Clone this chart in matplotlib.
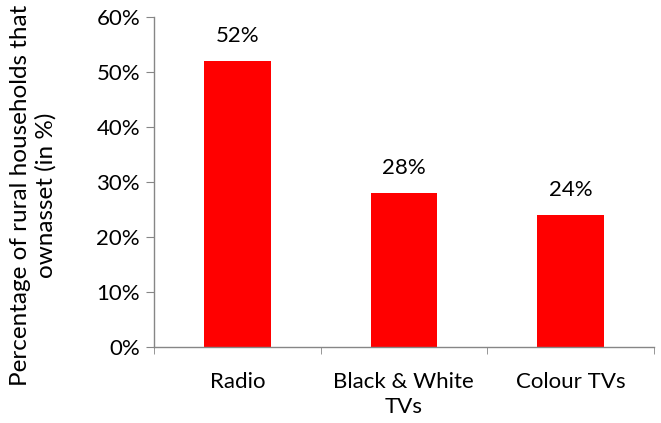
import matplotlib
matplotlib.use("Agg")
import matplotlib.pyplot as plt
from matplotlib.ticker import FuncFormatter, FixedLocator


categories = ["Radio", "Black & White\nTVs", "Colour TVs"]
shares = [52, 28, 24]
y_ticks = [0, 10, 20, 30, 40, 50, 60]

BAR_COLOR = "#FF0000"
AXIS_COLOR = "#868686"

plt.rcParams["font.family"] = ["Lato", "DejaVu Sans"]

fig = plt.figure(figsize=(6.61, 4.23), dpi=100)
ax = fig.add_axes([0.233, 0.180, 0.756, 0.780])

x = list(range(len(categories)))
bars = ax.bar(x, shares, width=0.4, color=BAR_COLOR)

for xi, v in zip(x, shares):
    ax.annotate(f"{v}%", (xi, v), xytext=(0, 11), textcoords="offset points",
                ha="center", va="bottom", fontsize=16)

ax.set_xlim(-0.5, len(categories) - 0.5)
ax.set_ylim(0, 60)
ax.set_yticks(y_ticks)
ax.yaxis.set_major_formatter(FuncFormatter(lambda v, _: f"{v:.0f}%"))

ax.set_xticks(x)
ax.set_xticklabels(categories, fontsize=16, linespacing=1.35)
ax.xaxis.set_minor_locator(FixedLocator([i - 0.5 for i in range(len(categories) + 1)]))
ax.tick_params(axis="x", which="major", length=0, pad=18)
ax.tick_params(axis="x", which="minor", length=5, color=AXIS_COLOR, direction="out")
ax.tick_params(axis="y", length=6, color=AXIS_COLOR, direction="out", labelsize=16, pad=4)

for side in ["top", "right"]:
    ax.spines[side].set_visible(False)
for side in ["left", "bottom"]:
    ax.spines[side].set_color(AXIS_COLOR)
    ax.spines[side].set_linewidth(1.0)

ax.set_ylabel("Percentage of rural households that\nownasset (in %)", fontsize=17.5,
              linespacing=1.25)
ax.yaxis.set_label_coords(-0.195, 0.46)

fig.savefig("out.png", dpi=100)
